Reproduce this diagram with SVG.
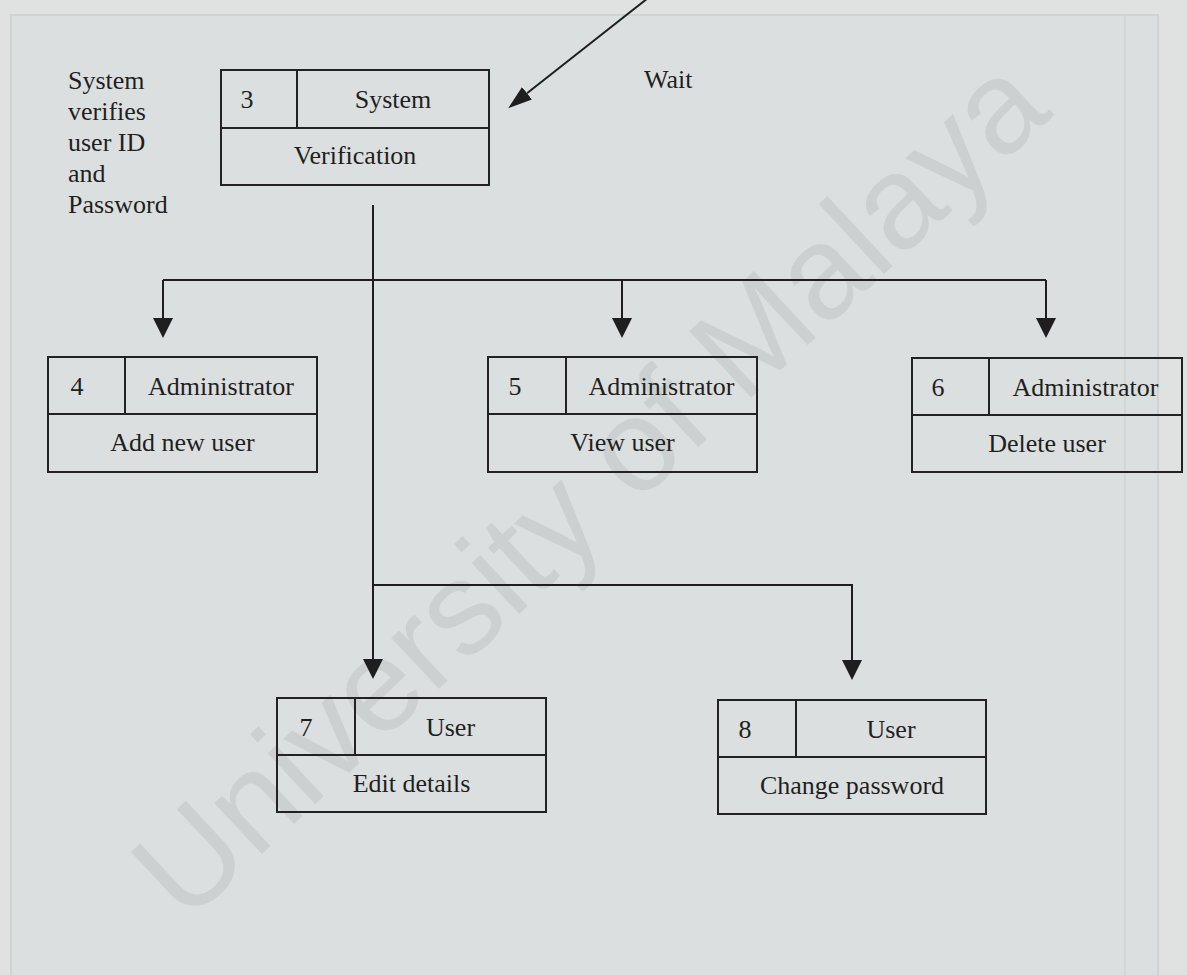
<svg xmlns="http://www.w3.org/2000/svg" width="1187" height="975" viewBox="0 0 1187 975">
<style>
.t{font-family:"Liberation Serif","Times New Roman",serif;font-size:26px;fill:#1f1f1f}
.m{text-anchor:middle}
.box{fill:none;stroke:#222;stroke-width:2}
.ln{fill:none;stroke:#1e1e1e;stroke-width:2}
.wm{font-family:"Liberation Sans",Arial,sans-serif;font-size:132px;fill:#cdd0d1;text-anchor:middle}
</style>
<defs>
<marker id="ah" markerUnits="userSpaceOnUse" markerWidth="20" markerHeight="20" viewBox="0 0 20 20" refX="0" refY="10" orient="auto"><path d="M0,0 L20,10 L0,20 Z" fill="#1e1e1e"/></marker>
<marker id="ah2" markerUnits="userSpaceOnUse" markerWidth="24" markerHeight="16" viewBox="0 0 24 16" refX="0" refY="8" orient="auto"><path d="M0,0 L24,8 L0,16 Z" fill="#1e1e1e"/></marker>
</defs>
<g id="background">
<rect x="0" y="0" width="1187" height="975" fill="#e0e2e2"/>
<rect x="11" y="15" width="1147" height="975" fill="#dcdfdf" stroke="#d0d3d4" stroke-width="2"/>
<line x1="1125" y1="15" x2="1125" y2="975" stroke="#d3d6d7" stroke-width="2"/>
<text class="wm" x="620" y="520" transform="rotate(-43 620 520)">University of Malaya</text>
</g>
<g id="labels" class="t">
<text x="68" y="89">System</text>
<text x="68" y="120">verifies</text>
<text x="68" y="151">user ID</text>
<text x="68" y="182">and</text>
<text x="68" y="213">Password</text>
<text x="644" y="88">Wait</text>
</g>
<g id="connectors">
<line class="ln" x1="648" y1="-2" x2="527" y2="93.3" marker-end="url(#ah2)"/>
<path class="ln" d="M373,205 V659" marker-end="url(#ah)"/>
<path class="ln" d="M163,280 H1046"/>
<path class="ln" d="M163,280 V318" marker-end="url(#ah)"/>
<path class="ln" d="M622,280 V318" marker-end="url(#ah)"/>
<path class="ln" d="M1046,280 V318" marker-end="url(#ah)"/>
<path class="ln" d="M373,585 H852 V660" marker-end="url(#ah)"/>
</g>
<g id="node3">
<rect class="box" x="221" y="70" width="268" height="115"/>
<path class="box" d="M221,128 H489 M297,70 V128"/>
<text class="t m" x="247" y="108">3</text>
<text class="t m" x="393" y="108">System</text>
<text class="t m" x="355" y="164">Verification</text>
</g>
<g id="node4">
<rect class="box" x="48" y="357" width="269" height="115"/>
<path class="box" d="M48,414 H317 M125,357 V414"/>
<text class="t m" x="77" y="395">4</text>
<text class="t m" x="221" y="395">Administrator</text>
<text class="t m" x="182.5" y="451">Add new user</text>
</g>
<g id="node5">
<rect class="box" x="488" y="357" width="269" height="115"/>
<path class="box" d="M488,414 H757 M566,357 V414"/>
<text class="t m" x="515" y="395">5</text>
<text class="t m" x="661.5" y="395">Administrator</text>
<text class="t m" x="622.5" y="451">View user</text>
</g>
<g id="node6">
<rect class="box" x="912" y="358" width="270" height="114"/>
<path class="box" d="M912,415 H1182 M989,358 V415"/>
<text class="t m" x="938" y="396">6</text>
<text class="t m" x="1085.5" y="396">Administrator</text>
<text class="t m" x="1047" y="452">Delete user</text>
</g>
<g id="node7">
<rect class="box" x="277" y="698" width="269" height="114"/>
<path class="box" d="M277,755 H546 M355,698 V755"/>
<text class="t m" x="306" y="736">7</text>
<text class="t m" x="450.5" y="736">User</text>
<text class="t m" x="411.5" y="792">Edit details</text>
</g>
<g id="node8">
<rect class="box" x="718" y="700" width="268" height="114"/>
<path class="box" d="M718,757 H986 M796,700 V757"/>
<text class="t m" x="745" y="738">8</text>
<text class="t m" x="891" y="738">User</text>
<text class="t m" x="852" y="794">Change password</text>
</g>
</svg>
